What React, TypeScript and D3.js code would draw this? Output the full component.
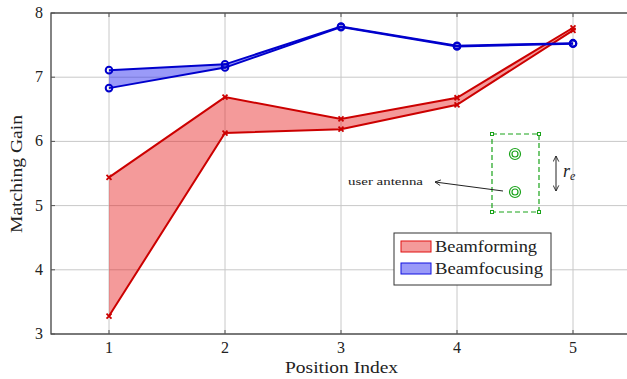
import React from "react";
import * as d3 from "d3";

const positions = [1, 2, 3, 4, 5];
const bfUpper = [5.44, 6.69, 6.35, 6.68, 7.77];
const bfLower = [3.28, 6.13, 6.19, 6.57, 7.73];
const bfocUpper = [7.11, 7.2, 7.79, 7.49, 7.53];
const bfocLower = [6.83, 7.15, 7.78, 7.48, 7.52];
const xTicks = [1, 2, 3, 4, 5];
const yTicks = [3, 4, 5, 6, 7, 8];
const seriesNames = ["Beamforming", "Beamfocusing"];

const W = 627;
const H = 379;
const FONT = "Liberation Serif";

const RED = "#cc0000";
const RED_FILL = "rgba(230,30,30,0.45)";
const BLUE = "#0000cc";
const BLUE_FILL = "rgba(30,30,240,0.45)";
const GREEN = "#1aa31a";

export default function App() {
  const x = d3.scaleLinear().domain([0.5, 5.5]).range([51, 631]);
  const y = d3.scaleLinear().domain([3, 8]).range([334, 13]);

  const mk = (u: number[], l: number[]) =>
    positions.map((p, i) => ({ x: p, u: u[i], l: l[i] }));
  const red = mk(bfUpper, bfLower);
  const blue = mk(bfocUpper, bfocLower);

  const area = d3
    .area<{ x: number; u: number; l: number }>()
    .x((d) => x(d.x))
    .y0((d) => y(d.l))
    .y1((d) => y(d.u));
  const lineU = d3
    .line<{ x: number; u: number; l: number }>()
    .x((d) => x(d.x))
    .y((d) => y(d.u));
  const lineL = d3
    .line<{ x: number; u: number; l: number }>()
    .x((d) => x(d.x))
    .y((d) => y(d.l));

  const xMark = (cx: number, cy: number, key: string) => (
    <path
      key={key}
      d={`M${cx - 2.5},${cy - 2.5}L${cx + 2.5},${cy + 2.5}M${cx - 2.5},${cy + 2.5}L${cx + 2.5},${cy - 2.5}`}
      stroke={RED}
      strokeWidth={1.8}
    />
  );

  const left = x(0.5);
  const right = x(5.5);
  const top = y(8);
  const bottom = y(3);

  const bx0 = 492, bx1 = 539, by0 = 134, by1 = 212;
  const a1 = { cx: 515, cy: 154 };
  const a2 = { cx: 515, cy: 192 };

  const txt = { fontFamily: FONT, fill: "#222" } as React.CSSProperties;

  return (
    <svg
      width={W}
      height={H}
      style={{ position: "absolute", left: 0, top: 0, background: "#fff", fontFamily: FONT }}
    >
      <defs>
        <clipPath id="plot">
          <rect x={left} y={top} width={right - left} height={bottom - top} />
        </clipPath>
        <marker id="ah" viewBox="0 0 10 10" refX="9" refY="5" markerWidth="7" markerHeight="7" orient="auto-start-reverse">
          <path d="M1,1 L9,5 L1,9" fill="none" stroke="#222" strokeWidth={1.3} />
        </marker>
      </defs>

      {xTicks.map((t) => (
        <line key={"gx" + t} x1={x(t)} x2={x(t)} y1={top} y2={bottom} stroke="#c8c8c8" strokeWidth={1} />
      ))}
      {yTicks.map((t) => (
        <line key={"gy" + t} x1={left} x2={right} y1={y(t)} y2={y(t)} stroke="#c8c8c8" strokeWidth={1} />
      ))}

      <g clipPath="url(#plot)">
        <path d={area(red) || ""} fill={RED_FILL} stroke="none" />
        <path d={area(blue) || ""} fill={BLUE_FILL} stroke="none" />
        <path d={lineU(red) || ""} fill="none" stroke={RED} strokeWidth={2} />
        <path d={lineL(red) || ""} fill="none" stroke={RED} strokeWidth={2} />
        {red.map((d, i) => xMark(x(d.x), y(d.u), "ru" + i))}
        {red.map((d, i) => xMark(x(d.x), y(d.l), "rl" + i))}
        <path d={lineU(blue) || ""} fill="none" stroke={BLUE} strokeWidth={2} />
        <path d={lineL(blue) || ""} fill="none" stroke={BLUE} strokeWidth={2} />
        {blue.map((d, i) => (
          <circle key={"bu" + i} cx={x(d.x)} cy={y(d.u)} r={3.3} fill="none" stroke={BLUE} strokeWidth={2} />
        ))}
        {blue.map((d, i) => (
          <circle key={"bl" + i} cx={x(d.x)} cy={y(d.l)} r={3.3} fill="none" stroke={BLUE} strokeWidth={2} />
        ))}
      </g>

      <rect x={left} y={top} width={right - left} height={bottom - top} fill="none" stroke="#333" strokeWidth={1.2} />
      {xTicks.map((t) => (
        <g key={"tx" + t}>
          <line x1={x(t)} x2={x(t)} y1={bottom} y2={bottom - 4} stroke="#555" />
          <line x1={x(t)} x2={x(t)} y1={top} y2={top + 4} stroke="#555" />
          <text x={x(t)} y={bottom + 19} textAnchor="middle" fontSize={16} style={txt}>
            {t}
          </text>
        </g>
      ))}
      {yTicks.map((t) => (
        <g key={"ty" + t}>
          <line x1={left} x2={left + 4} y1={y(t)} y2={y(t)} stroke="#555" />
          <text x={left - 8} y={y(t) + 5} textAnchor="end" fontSize={16} style={txt}>
            {t}
          </text>
        </g>
      ))}

      <text
        x={285}
        y={373}
        fontSize={16}
        textLength={113}
        lengthAdjust="spacingAndGlyphs"
        style={txt}
      >
        Position Index
      </text>
      <text
        transform={`translate(22,233) rotate(-90)`}
        fontSize={16}
        textLength={118}
        lengthAdjust="spacingAndGlyphs"
        style={txt}
      >
        Matching Gain
      </text>

      <rect x={bx0} y={by0} width={bx1 - bx0} height={by1 - by0} fill="none" stroke={GREEN} strokeWidth={1.2} strokeDasharray="5,3" />
      {[
        [bx0, by0],
        [bx1, by0],
        [bx0, by1],
        [bx1, by1],
      ].map(([cx, cy], i) => (
        <rect key={"c" + i} x={cx - 1.5} y={cy - 1.5} width={3} height={3} fill="#fff" stroke={GREEN} strokeWidth={1} />
      ))}
      {[a1, a2].map((a, i) => (
        <g key={"a" + i}>
          <circle cx={a.cx} cy={a.cy} r={5.5} fill="none" stroke={GREEN} strokeWidth={1.2} />
          <circle cx={a.cx} cy={a.cy} r={3} fill="none" stroke={GREEN} strokeWidth={1.2} />
        </g>
      ))}
      <line x1={503} y1={191} x2={435} y2={182} stroke="#222" strokeWidth={1} markerEnd="url(#ah)" />
      <text x={348} y={185} fontSize={11} textLength={75} lengthAdjust="spacingAndGlyphs" style={txt}>
        user antenna
      </text>
      <line x1={556} y1={156} x2={556} y2={191} stroke="#222" strokeWidth={1} markerStart="url(#ah)" markerEnd="url(#ah)" />
      <text x={563} y={177} fontSize={18} fontStyle="italic" style={txt}>
        r
        <tspan fontSize={12} dy={3}>
          e
        </tspan>
      </text>

      <rect x={394} y={233} width={157} height={52} fill="#fff" stroke="#333" strokeWidth={1} />
      {seriesNames.map((n, i) => (
        <g key={n}>
          <rect
            x={401}
            y={241 + i * 22}
            width={30}
            height={11}
            fill={i === 0 ? RED_FILL : BLUE_FILL}
            stroke={i === 0 ? "#e01010" : "#1010e0"}
            strokeWidth={1}
          />
          <text
            x={435}
            y={252 + i * 22}
            fontSize={17}
            textLength={i === 0 ? 102 : 108}
            lengthAdjust="spacingAndGlyphs"
            style={txt}
          >
            {n}
          </text>
        </g>
      ))}
    </svg>
  );
}
